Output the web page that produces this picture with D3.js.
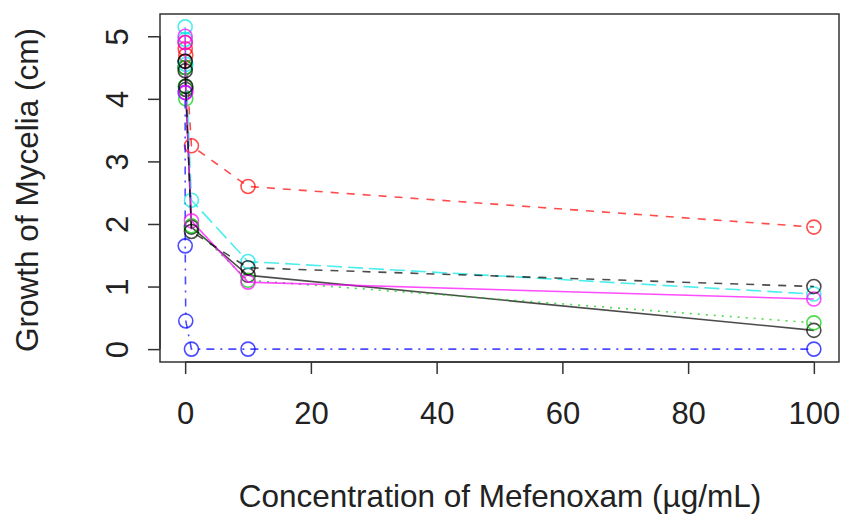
<!DOCTYPE html>
<html>
<head>
<meta charset="utf-8">
<script src="https://cdn.jsdelivr.net/npm/d3@7"></script>
<style>
  html, body { margin: 0; padding: 0; background: #fff; }
  svg { display: block; font-family: "Liberation Sans", Arial, sans-serif; }
</style>
</head>
<body>
<div id="chart"></div>
<script>
// concentrations (µg/mL) shared by every isolate
const concentrations = [0, 0.01, 0.1, 1, 10, 100];

// growth of mycelia (cm), one array per isolate
const isolate1 = [4.6, 4.5, 4.15, 1.95, 1.18, 0.3];
const isolate2 = [4.9, 4.8, 4.7, 3.25, 2.6, 1.95];
const isolate3 = [4.5, 4.2, 4.0, 1.97, 1.1, 0.42];
const isolate4 = [4.1, 1.65, 0.45, 0, 0, 0];
const isolate5 = [5.15, 4.95, 4.55, 2.38, 1.4, 0.88];
const isolate6 = [5.0, 4.9, 4.1, 2.05, 1.07, 0.8];
const isolate7 = [4.6, 4.45, 4.2, 1.88, 1.3, 1.0];

const series = [isolate1, isolate2, isolate3, isolate4, isolate5, isolate6, isolate7];

const xTicks = [0, 20, 40, 60, 80, 100];
const yTicks = [0, 1, 2, 3, 4, 5];

// R matplot defaults: col 1:6, lty 1:5 recycled
const colors = ['#000000', '#ff0000', '#00cd00', '#0000ff', '#00e5e5', '#ff00ff'];
const dashes = [null, '8,8', '2,6', '2,6,8,6', '15,6'];

const W = 843, H = 518;
const box = { left: 160, right: 839, top: 14, bottom: 362 };

const svg = d3.select('#chart').append('svg')
  .attr('width', W).attr('height', H);

// R pads the data range by 4% on each side
const xExt = d3.extent(concentrations);
const yExt = d3.extent(series.flat());
const xPad = (xExt[1] - xExt[0]) * 0.04;
const yPad = (yExt[1] - yExt[0]) * 0.04;

const x = d3.scaleLinear().domain([xExt[0] - xPad, xExt[1] + xPad]).range([box.left, box.right]);
const y = d3.scaleLinear().domain([yExt[0] - yPad, yExt[1] + yPad]).range([box.bottom, box.top]);

const plot = svg.append('g');

const line = d3.line().x((d, i) => x(concentrations[i])).y(d => y(d));

series.forEach((vals, k) => {
  const col = colors[k % colors.length];
  const dash = dashes[k % dashes.length];
  plot.append('path')
    .attr('d', line(vals))
    .attr('fill', 'none')
    .attr('stroke', col)
    .attr('stroke-opacity', 0.7)
    .attr('stroke-width', 1.6)
    .attr('stroke-dasharray', dash);
  plot.selectAll(null)
    .data(vals)
    .join('circle')
    .attr('cx', (d, i) => x(concentrations[i]))
    .attr('cy', d => y(d))
    .attr('r', 7)
    .attr('fill', 'none')
    .attr('stroke', col)
    .attr('stroke-opacity', 0.7)
    .attr('stroke-width', 1.6);
});

// box
svg.append('rect')
  .attr('x', box.left).attr('y', box.top)
  .attr('width', box.right - box.left).attr('height', box.bottom - box.top)
  .attr('fill', 'none').attr('stroke', '#333').attr('stroke-width', 1.5);

// x axis
const xAxis = svg.append('g')
  .attr('transform', `translate(0,${box.bottom})`)
  .call(d3.axisBottom(x).tickValues(xTicks).tickSize(12).tickPadding(28).tickFormat(d3.format('d')));
xAxis.select('.domain').attr('d', `M${x(xTicks[0])},0H${x(xTicks[xTicks.length - 1])}`)
  .attr('stroke', '#333').attr('stroke-width', 1.5);
xAxis.selectAll('.tick line').attr('stroke', '#333').attr('stroke-width', 1.5);
xAxis.selectAll('.tick text').attr('font-size', 31).attr('fill', '#222')
  .attr('font-family', '"Liberation Sans", Arial, sans-serif');

// y axis
const yAxis = svg.append('g')
  .attr('transform', `translate(${box.left},0)`)
  .call(d3.axisLeft(y).tickValues(yTicks).tickSize(12).tickFormat(d3.format('d')));
yAxis.select('.domain').attr('d', `M0,${y(yTicks[0])}V${y(yTicks[yTicks.length - 1])}`)
  .attr('stroke', '#333').attr('stroke-width', 1.5);
yAxis.selectAll('.tick line').attr('stroke', '#333').attr('stroke-width', 1.5);
yAxis.selectAll('.tick text')
  .attr('x', null).attr('dy', null)
  .attr('text-anchor', 'middle')
  .attr('dominant-baseline', 'central')
  .attr('transform', 'translate(-43,0) rotate(-90)')
  .attr('font-size', 31).attr('fill', '#222')
  .attr('font-family', '"Liberation Sans", Arial, sans-serif');

// axis titles
svg.append('text')
  .attr('x', 500).attr('y', 507)
  .attr('text-anchor', 'middle')
  .attr('font-size', 31.5).attr('fill', '#222')
  .text('Concentration of Mefenoxam (µg/mL)');

svg.append('text')
  .attr('transform', `translate(38,${(box.top + box.bottom) / 2 + 2}) rotate(-90)`)
  .attr('text-anchor', 'middle')
  .attr('font-size', 31.5).attr('fill', '#222')
  .text('Growth of Mycelia (cm)');
</script>
</body>
</html>
